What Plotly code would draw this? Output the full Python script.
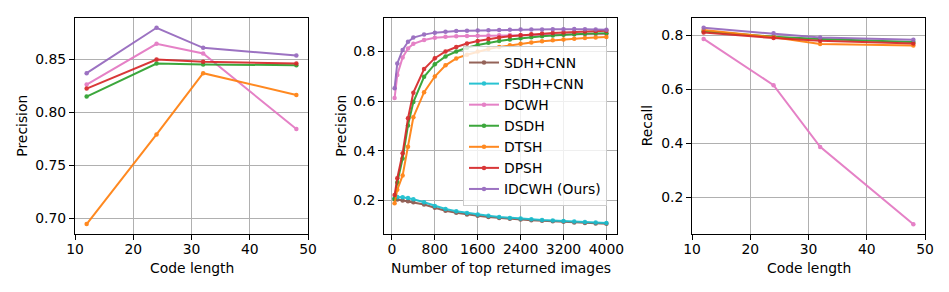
import plotly.graph_objects as go

# ---------------- data ----------------
code_len = [12, 24, 32, 48]

prec_DCWH = [0.826, 0.8645, 0.8554, 0.7841]
prec_DSDH = [0.8147, 0.8459, 0.8450, 0.8443]
prec_DTSH = [0.6946, 0.7791, 0.8368, 0.8163]
prec_DPSH = [0.8223, 0.8497, 0.8475, 0.8459]
prec_IDCWH = [0.8368, 0.8796, 0.8607, 0.8535]

top_n = [50, 100, 200, 300, 400, 600, 800, 1000, 1200, 1400, 1600, 1800, 2000,
         2200, 2400, 2600, 2800, 3000, 3200, 3400, 3600, 3800, 4000]
top_SDH = [0.205, 0.203, 0.199, 0.196, 0.192, 0.183, 0.170, 0.158, 0.150, 0.143, 0.138, 0.133,
           0.129, 0.125, 0.122, 0.119, 0.117, 0.115, 0.113, 0.110, 0.108, 0.106, 0.105]
top_FSDH = [0.208, 0.213, 0.212, 0.209, 0.204, 0.192, 0.177, 0.165, 0.156, 0.149, 0.143, 0.138,
            0.133, 0.129, 0.126, 0.123, 0.120, 0.118, 0.116, 0.114, 0.112, 0.110, 0.108]
top_DCWH = [0.612, 0.705, 0.776, 0.812, 0.831, 0.846, 0.855, 0.859, 0.861, 0.862, 0.863, 0.864,
            0.865, 0.866, 0.866, 0.867, 0.867, 0.868, 0.868, 0.869, 0.869, 0.870, 0.870]
top_DSDH = [0.205, 0.272, 0.368, 0.502, 0.596, 0.698, 0.749, 0.780, 0.800, 0.815, 0.826, 0.835,
            0.842, 0.848, 0.853, 0.857, 0.861, 0.864, 0.867, 0.869, 0.871, 0.873, 0.874]
top_DTSH = [0.188, 0.242, 0.300, 0.416, 0.535, 0.636, 0.699, 0.744, 0.772, 0.787, 0.800, 0.810,
            0.818, 0.825, 0.831, 0.836, 0.841, 0.845, 0.848, 0.851, 0.854, 0.856, 0.858]
top_DPSH = [0.221, 0.289, 0.390, 0.531, 0.634, 0.729, 0.773, 0.800, 0.818, 0.832, 0.842, 0.850,
            0.856, 0.861, 0.865, 0.869, 0.872, 0.875, 0.877, 0.879, 0.881, 0.883, 0.884]
top_IDCWH = [0.652, 0.752, 0.806, 0.839, 0.856, 0.868, 0.876, 0.880, 0.883, 0.884, 0.885, 0.886,
             0.887, 0.888, 0.889, 0.889, 0.889, 0.890, 0.890, 0.891, 0.890, 0.889, 0.888]

rec_DCWH = [0.786, 0.6145, 0.386, 0.0996]
rec_DSDH = [0.814, 0.794, 0.786, 0.775]
rec_DTSH = [0.819, 0.792, 0.767, 0.762]
rec_DPSH = [0.810, 0.789, 0.779, 0.769]
rec_IDCWH = [0.827, 0.807, 0.791, 0.783]

names = ["SDH+CNN", "FSDH+CNN", "DCWH", "DSDH", "DTSH", "DPSH", "IDCWH (Ours)"]
colors = {"SDH+CNN": "#8c564b", "FSDH+CNN": "#17becf", "DCWH": "#e377c2", "DSDH": "#2ca02c",
          "DTSH": "#ff7f0e", "DPSH": "#d62728", "IDCWH (Ours)": "#9467bd"}

left_series = [("DCWH", prec_DCWH), ("DSDH", prec_DSDH), ("DTSH", prec_DTSH),
               ("DPSH", prec_DPSH), ("IDCWH (Ours)", prec_IDCWH)]
mid_series = [("SDH+CNN", top_SDH), ("FSDH+CNN", top_FSDH), ("DCWH", top_DCWH), ("DSDH", top_DSDH),
              ("DTSH", top_DTSH), ("DPSH", top_DPSH), ("IDCWH (Ours)", top_IDCWH)]
right_series = [("DCWH", rec_DCWH), ("DSDH", rec_DSDH), ("DTSH", rec_DTSH),
                ("DPSH", rec_DPSH), ("IDCWH (Ours)", rec_IDCWH)]

# ---------------- layout helpers ----------------
W, H = 949, 292
FONT = "DejaVu Sans"
FS = 13.9

def px_x(p):
    return p / W

def px_y(p):
    return 1 - p / H

fig = go.Figure()

def add(series, x, xa, ya, show):
    for name, y in series:
        fig.add_trace(go.Scatter(
            x=x, y=y, mode="lines+markers", name=name,
            line=dict(color=colors[name], width=2),
            marker=dict(color=colors[name], size=4.5),
            opacity=0.92,
            xaxis=xa, yaxis=ya, showlegend=show))

add(left_series, code_len, "x", "y", False)
add(mid_series, top_n, "x2", "y2", True)
add(right_series, code_len, "x3", "y3", False)

axis_common = dict(showline=True, mirror=True, linecolor="black", linewidth=1,
                   ticks="outside", ticklen=5, tickwidth=1, tickcolor="black",
                   showgrid=True, gridcolor="#b0b0b0", gridwidth=1, zeroline=False,
                   automargin=False,
                   tickfont=dict(family=FONT, size=FS, color="black"))
xcommon = dict(axis_common, ticklabelstandoff=-3)

ydom = [px_y(234), px_y(18)]
fig.update_layout(
    template="none",
    width=W, height=H, margin=dict(l=0, r=0, t=0, b=0, pad=0),
    paper_bgcolor="white", plot_bgcolor="white",
    font=dict(family=FONT, size=FS, color="black"),
    xaxis=dict(domain=[px_x(75), px_x(308)], range=[10, 50], tickvals=[10, 20, 30, 40, 50],
               anchor="y", **xcommon),
    yaxis=dict(domain=ydom, range=[0.6852, 0.8888], tickvals=[0.70, 0.75, 0.80, 0.85],
               tickformat=".2f", anchor="x", **axis_common),
    xaxis2=dict(domain=[px_x(384), px_x(617)], range=[-147.5, 4197.5],
                tickvals=[0, 800, 1600, 2400, 3200, 4000], anchor="y2", **xcommon),
    yaxis2=dict(domain=ydom, range=[0.064, 0.935], tickvals=[0.2, 0.4, 0.6, 0.8],
                tickformat=".1f", anchor="x2", **axis_common),
    xaxis3=dict(domain=[px_x(692), px_x(925)], range=[10, 50], tickvals=[10, 20, 30, 40, 50],
                anchor="y3", **xcommon),
    yaxis3=dict(domain=ydom, range=[0.0632, 0.8635], tickvals=[0.2, 0.4, 0.6, 0.8],
                tickformat=".1f", anchor="x3", **axis_common),
    legend=dict(x=px_x(463), y=px_y(46), xanchor="left", yanchor="top",
                bgcolor="rgba(255,255,255,0.8)", bordercolor="#cccccc", borderwidth=1,
                font=dict(family=FONT, size=FS, color="black"), itemwidth=30),
    showlegend=True,
)

titles = [
    ("Code length", px_x(191.5), px_y(268), 0),
    ("Number of top returned images", px_x(500.5), px_y(268), 0),
    ("Code length", px_x(808.5), px_y(268), 0),
    ("Precision", px_x(21.7), px_y(126), -90),
    ("Precision", px_x(340.7), px_y(126), -90),
    ("Recall", px_x(647.3), px_y(126), -90),
]
for text, x, y, ang in titles:
    fig.add_annotation(text=text, x=x, y=y, xref="paper", yref="paper",
                       showarrow=False, textangle=ang, xanchor="center", yanchor="middle",
                       font=dict(family=FONT, size=FS, color="black"))

fig.write_html("out.html", config={"displayModeBar": False},
               post_script="document.body.style.margin='0';document.body.style.padding='0';")
